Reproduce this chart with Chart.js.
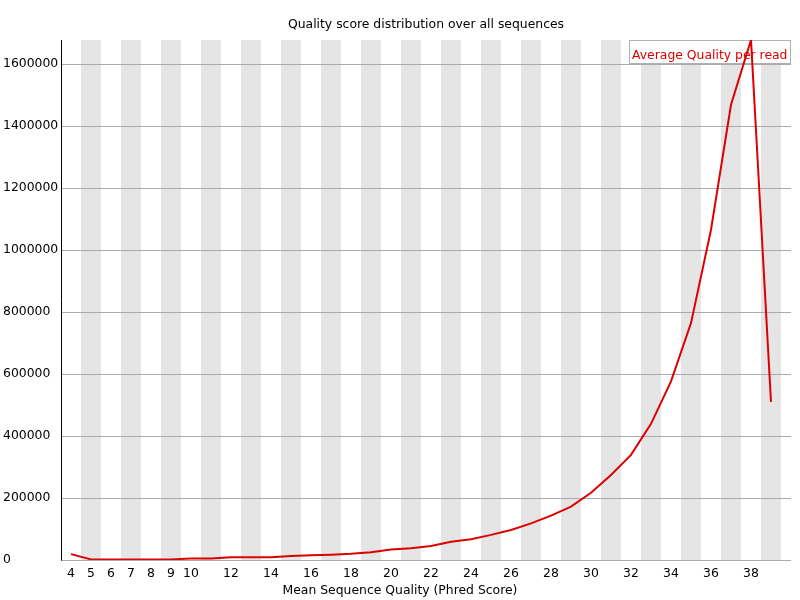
<!DOCTYPE html>
<html lang="en">
<head>
    <meta charset="UTF-8">
    <title>Per sequence quality scores</title>
    <script src="https://cdn.jsdelivr.net/npm/chart.js"></script>
    <style>
        body { margin: 0; background: white; }
        .chart-container { position: relative; width: 800px; height: 600px; }
    </style>
</head>
<body>
    <div class="chart-container"><canvas id="qualityChart"></canvas></div>

<script>
    const qualityScores = ['4','5','6','7','8','9','10','11','12','13','14','15','16','17','18','19','20','21',
        '22','23','24','25','26','27','28','29','30','31','32','33','34','35','36','37','38','39'];
    const readCounts = [19000, 2000, 2000, 2000, 2000, 2000, 5000, 5000, 8500, 8500, 8500, 13000, 15000, 17000,
        20000, 25000, 34000, 38000, 45000, 59000, 67000, 81000, 97000, 118000, 143000, 172000, 217000,
        274000, 339000, 439000, 576000, 764000, 1065000, 1468000, 1677000, 510000];
    const yTicks = [0, 200000, 400000, 600000, 800000, 1000000, 1200000, 1400000, 1600000];

    const chartTitle = 'Quality score distribution over all sequences';
    const xTitle = 'Mean Sequence Quality (Phred Score)';
    const seriesName = 'Average Quality per read';
    const FONT_SIZE = 12.4;
    const FONT = FONT_SIZE + 'px "DejaVu Sans", sans-serif';
    const LINE_RED = 'rgb(222, 0, 0)';

    // stripes, grid, axes, title and the text-only legend, drawn the FastQC way
    const fastqcBackground = {
        id: 'fastqcBackground',
        beforeDatasetsDraw(chart) {
            const { ctx, chartArea: a, scales: { x, y } } = chart;
            const right = a.right + 10;
            ctx.save();
            ctx.fillStyle = '#e5e5e5';
            qualityScores.forEach((q, i) => {
                if (i % 2 === 1) {
                    const cx = x.getPixelForValue(i);
                    ctx.fillRect(cx - 10, a.top, 20, a.bottom - a.top);
                }
            });
            ctx.strokeStyle = '#aaaaaa';
            ctx.lineWidth = 1;
            yTicks.forEach(v => {
                const py = Math.round(y.getPixelForValue(v)) + 0.5;
                ctx.beginPath(); ctx.moveTo(a.left, py); ctx.lineTo(right, py); ctx.stroke();
            });
            ctx.strokeStyle = '#000';
            ctx.beginPath();
            ctx.moveTo(a.left + 0.5, a.top); ctx.lineTo(a.left + 0.5, a.bottom + 0.5);
            ctx.stroke();

            ctx.font = FONT;
            ctx.fillStyle = '#000';
            ctx.textAlign = 'center';
            ctx.textBaseline = 'middle';
            ctx.fillText(chartTitle, (a.left + right) / 2, 25);
            ctx.fillText(xTitle, chart.width / 2, 591);

            // legend box
            ctx.fillStyle = '#fff';
            ctx.fillRect(629, 40, 161, 23);
            ctx.strokeStyle = '#b0b0b0';
            ctx.strokeRect(629.5, 40.5, 161, 23);
            ctx.fillStyle = LINE_RED;
            ctx.textAlign = 'left';
            ctx.fillText(seriesName, 632, 56);
            ctx.restore();
        }
    };

    new Chart(document.getElementById('qualityChart').getContext('2d'), {
        type: 'line',
        data: {
            labels: qualityScores,
            datasets: [{
                label: seriesName,
                data: readCounts,
                borderColor: LINE_RED,
                borderWidth: 2,
                pointRadius: 0,
                tension: 0,
                fill: false
            }]
        },
        options: {
            responsive: true,
            maintainAspectRatio: false,
            animation: false,
            layout: { padding: { left: 3, right: 19, top: 40, bottom: 0 } },
            plugins: { legend: { display: false }, title: { display: false }, tooltip: { enabled: false } },
            scales: {
                x: {
                    type: 'category',
                    offset: true,
                    grid: { display: false, drawTicks: false },
                    border: { display: false },
                    afterFit: s => { s.height = 40; },
                    ticks: {
                        autoSkip: false, maxRotation: 0, padding: 6, color: '#000',
                        font: { family: '"DejaVu Sans", sans-serif', size: FONT_SIZE },
                        callback: (v, i) => {
                            const q = Number(qualityScores[i]);
                            return (q <= 10 || q % 2 === 0) && q !== 39 ? qualityScores[i] : '';
                        }
                    }
                },
                y: {
                    min: 0,
                    max: 1677000,
                    grid: { display: false, drawTicks: false },
                    border: { display: false },
                    afterFit: s => { s.width = 58; },
                    afterBuildTicks: s => { s.ticks = yTicks.map(v => ({ value: v })); },
                    ticks: {
                        crossAlign: 'far', color: '#000',
                        font: { family: '"DejaVu Sans", sans-serif', size: FONT_SIZE },
                        callback: v => String(v)
                    }
                }
            }
        },
        plugins: [fastqcBackground]
    });
</script>
</body>
</html>
